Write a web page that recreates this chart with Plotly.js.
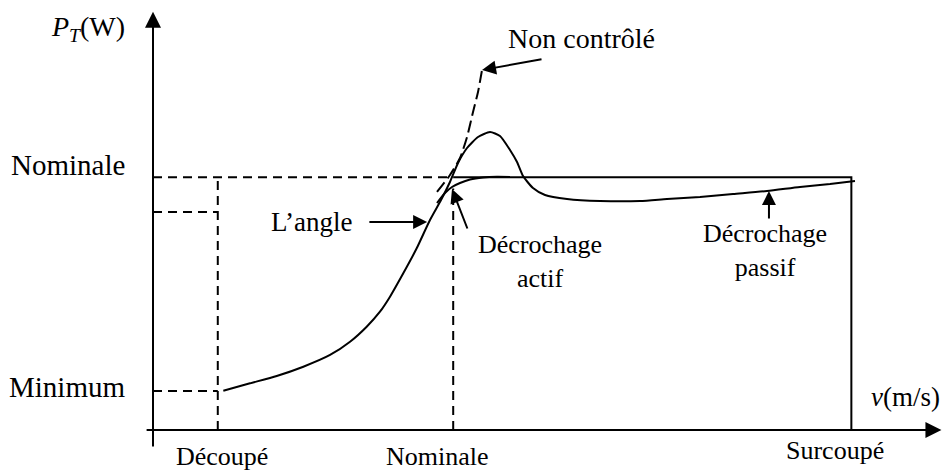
<!DOCTYPE html>
<html>
<head>
<meta charset="utf-8">
<script src="https://cdn.plot.ly/plotly-3.0.1.min.js"></script>
</head>
<body style="margin:0">
<div id="chart" style="width:943px;height:470px"></div>
<script>
// ---- data (arbitrary units: wind speed on x, turbine power on y) ----
const speedTickLabels = ['Découpé', 'Nominale', 'Surcoupé'];
const speedTickValues = [8.2, 38.0, 88.4];
const powerTickLabels = ['Minimum', 'Nominale'];
const powerTickValues = [9.3, 60.2];
const pitchLimitPower = 51.9;

// rising curve + passive stall (overshoot then sag)
const passiveX = [8.90, 12.28, 15.66, 19.03, 22.41, 24.94, 27.05, 28.73, 30.00, 31.68, 33.38, 35.06, 36.46, 37.59, 38.61, 39.75, 41.14, 42.66, 43.92, 45.19, 46.08, 46.84, 48.10, 49.62, 52.41, 56.58, 61.65, 65.06, 69.24, 73.42, 77.72, 81.90, 85.70, 88.86];
const passiveY = [9.36, 11.12, 12.86, 15.07, 17.86, 21.02, 24.60, 28.17, 31.74, 37.31, 43.26, 50.00, 54.76, 59.05, 63.57, 67.14, 69.76, 70.95, 70.00, 66.67, 63.81, 60.48, 57.62, 55.95, 55.00, 54.52, 54.52, 55.00, 55.48, 56.19, 56.90, 57.86, 58.57, 59.29];

// active stall branch
const activeX = [35.95, 36.96, 37.85, 38.86, 40.13, 41.77, 43.54, 45.19];
const activeY = [54.05, 56.43, 57.86, 58.81, 59.64, 60.12, 60.29, 60.24];

// uncontrolled (dashed)
const uncontrolledX = [35.95, 37.59, 38.86, 39.75, 40.51, 41.14, 41.65];
const uncontrolledY = [56.67, 60.71, 64.76, 69.76, 75.71, 80.48, 85.71];

// rated power plateau and cut-out
const plateauX = [speedTickValues[1], speedTickValues[2], speedTickValues[2]];
const plateauY = [powerTickValues[1], powerTickValues[1], 0];

const FS = 26;

const traces = [
  {x: passiveX, y: passiveY, mode: 'lines', line: {color: 'black', width: 2, shape: 'spline', smoothing: 0.6}, hoverinfo: 'skip'},
  {x: activeX, y: activeY, mode: 'lines', line: {color: 'black', width: 2, shape: 'spline', smoothing: 0.6}, hoverinfo: 'skip'},
  {x: uncontrolledX, y: uncontrolledY, mode: 'lines', line: {color: 'black', width: 2, dash: '12px,5px', shape: 'spline', smoothing: 0.6}, hoverinfo: 'skip'},
  {x: plateauX, y: plateauY, mode: 'lines', line: {color: 'black', width: 2}, hoverinfo: 'skip'}
];

const dashG = {color: 'black', width: 2, dash: '9px,6px'};
const shapes = [
  {type: 'line', xref: 'x', yref: 'y', x0: 0, x1: speedTickValues[1], y0: powerTickValues[1], y1: powerTickValues[1], line: dashG},
  {type: 'line', xref: 'x', yref: 'y', x0: speedTickValues[0], x1: speedTickValues[0], y0: 0, y1: powerTickValues[1], line: dashG},
  {type: 'line', xref: 'x', yref: 'y', x0: speedTickValues[1], x1: speedTickValues[1], y0: 0, y1: 57.5, line: dashG},
  {type: 'line', xref: 'x', yref: 'y', x0: 0, x1: speedTickValues[0], y0: powerTickValues[0], y1: powerTickValues[0], line: dashG},
  {type: 'line', xref: 'x', yref: 'y', x0: 0, x1: speedTickValues[0], y0: pitchLimitPower, y1: pitchLimitPower, line: dashG}
];

function txt(x, y, text, opts, size) {
  const a = {x: x, y: y, xref: 'x', yref: 'y', text: text, showarrow: false,
    font: {family: 'Liberation Serif', size: size || FS, color: 'black'}, xanchor: 'center', yanchor: 'middle'};
  return Object.assign(a, opts || {});
}
function arrow(tx, ty, hx, hy, size) {
  return {x: hx, y: hy, ax: tx, ay: ty, xref: 'x', yref: 'y', axref: 'x', ayref: 'y', text: '',
    showarrow: true, arrowhead: 2, arrowwidth: 2, arrowsize: size || 1.4, arrowcolor: 'black', standoff: 0, startstandoff: 0};
}

const annotations = [
  // axes
  arrow(-1.0, 0, 99.8, 0, 1.6),
  arrow(0, -4.29, 0, 99.6, 1.6),
  // axis titles
  txt(-3.3, 95.7, '<i>P</i><sub><i>T</i></sub>(W)', {xanchor: 'right'}, 28),
  txt(99.9, 7.9, '<i>v</i>(m/s)', {xanchor: 'right'}, 27),
  // y labels
  txt(-3.3, powerTickValues[1], powerTickLabels[1], {xanchor: 'right', yshift: 12}, 29),
  txt(-3.3, powerTickValues[0], powerTickLabels[0], {xanchor: 'right', yshift: 4}, 29),
  // x labels
  txt(speedTickValues[0], -6.4, speedTickLabels[0], {xshift: 4}),
  txt(speedTickValues[1], -6.4, speedTickLabels[1], {xshift: -16}),
  txt(speedTickValues[2], -4.8, speedTickLabels[2], {xshift: -16}),
  // callouts
  txt(54.3, 93.3, 'Non contrôlé', {}, 28),
  arrow(49.37, 88.33, 41.65, 85.71),
  txt(20.0, 49.5, 'L\u2019angle', {}, 27),
  arrow(27.2, 49.5, 34.7, 49.5),
  txt(49.0, 40.2, 'Décrochage<br>actif'),
  arrow(39.87, 47.62, 37.85, 57.38),
  txt(77.47, 42.7, 'Décrochage<br>passif'),
  arrow(77.97, 50.0, 77.97, 56.9)
];

const layout = {
  width: 943, height: 470,
  margin: {l: 0, r: 0, t: 0, b: 0},
  paper_bgcolor: 'white', plot_bgcolor: 'white',
  showlegend: false,
  xaxis: {range: [-19.367, 100], visible: false, fixedrange: true},
  yaxis: {range: [-9.524, 102.381], visible: false, fixedrange: true},
  shapes: shapes,
  annotations: annotations
};

Plotly.newPlot('chart', traces, layout, {displayModeBar: false});
</script>
</body>
</html>
